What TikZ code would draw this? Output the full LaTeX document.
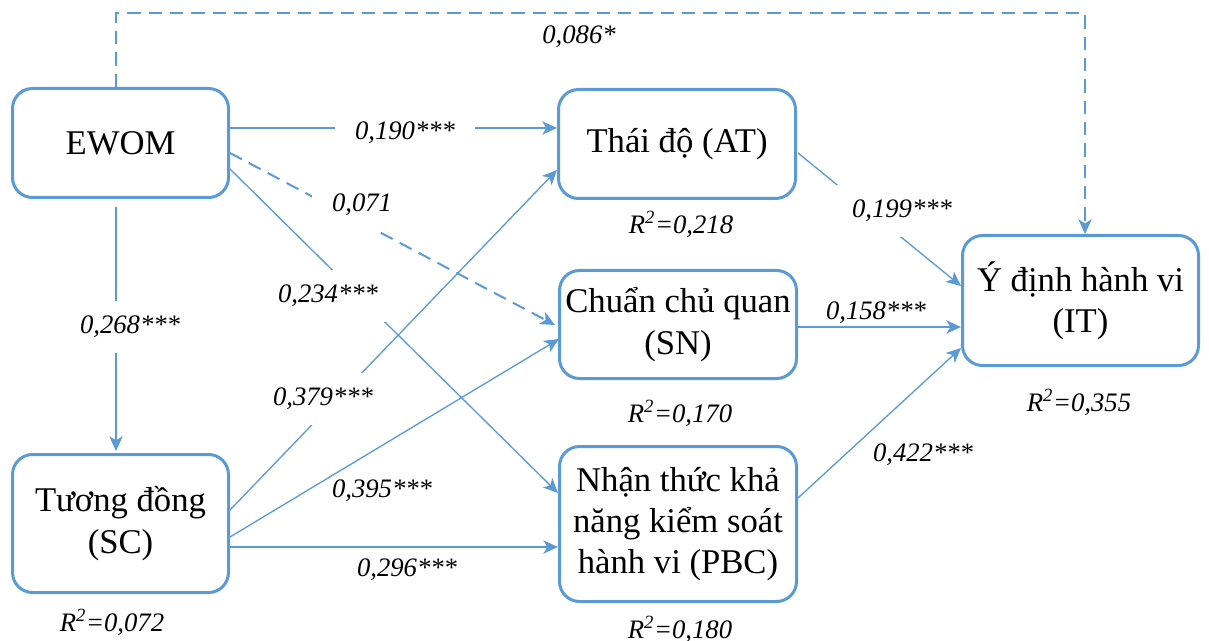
\documentclass[tikz,border=0pt]{standalone}
\usepackage{fontspec}
\setmainfont{Liberation Serif}
\usetikzlibrary{arrows.meta,calc}
\definecolor{lblue}{HTML}{5B9BD5}
\begin{document}
\begin{tikzpicture}[x=0.75pt,y=-0.75pt,
  box/.style={draw=lblue, line width=2.25pt, rounded corners=15pt, fill=white,
    align=center, inner sep=0pt, font=\fontsize{26}{31}\selectfont},
  conn/.style={draw=lblue, line width=1pt,
    -{Stealth[length=11pt,width=10pt,inset=3pt]}},
  dconn/.style={conn, line width=1.5pt, dash pattern=on 10pt off 6pt},
  lbl/.style={font=\fontsize{20}{24}\selectfont\itshape, inner sep=1pt},
  gaplbl/.style={lbl, fill=white, inner xsep=15pt, inner ysep=11pt}]
\useasboundingbox (0,0) rectangle (1209,641);

% nodes
\node[box, minimum width=162pt, minimum height=81.75pt] (ewom) at (120.5,143) {EWOM};
\node[box, minimum width=177.75pt, minimum height=81.75pt] (at) at (677,144) {Thái độ (AT)};
\node[box, minimum width=177.75pt, minimum height=81pt] (sn) at (678,324.5) {Chuẩn chủ quan\\(SN)};
\node[box, minimum width=177.75pt, minimum height=116.25pt] (pbc) at (678,524) {Nhận thức khả\\năng kiểm soát\\hành vi (PBC)};
\node[box, minimum width=177pt, minimum height=97.5pt] (it) at (1080.5,300.5) {Ý định hành vi\\(IT)};
\node[box, minimum width=162pt, minimum height=103.5pt] (sc) at (120.5,523.5) {Tương đồng\\(SC)};

% connectors
\coordinate (tl) at (116,13);
\coordinate (tr) at (1085,13);
\draw[dconn] ($(ewom.north)+(-4.5,0)$) -- (tl) -- (tr) -- ($(it.north)+(4.5,0)$);
\draw[conn] ($(ewom.east)+(0,-15)$) -- ($(at.west)+(0,-16)$);
\draw[dconn] ($(ewom.east)+(0,10)$) -- ($(sn.west)+(-3,0.5)$);
\draw[conn] ($(ewom.east)+(0,26)$) -- ($(pbc.west)+(0,-31)$);
\draw[conn] ($(ewom.south)+(-4.5,8)$) -- ($(sc.north)+(-4.5,-2)$);
\draw[conn] ($(sc.east)+(0,-13.5)$) -- ($(at.west)+(0,26)$);
\draw[conn] ($(sc.east)+(0,13.5)$) -- ($(sn.west)+(1,14.5)$);
\draw[conn] ($(sc.east)+(0,23.5)$) -- ($(pbc.west)+(0,23)$);
\draw[conn] ($(at.east)+(1,9)$) -- ($(it.west)+(0,-14.5)$);
\draw[conn] ($(sn.east)+(0,2.5)$) -- ($(it.west)+(0,26.5)$);
\draw[conn] ($(pbc.east)+(0,-26)$) -- ($(it.west)+(0,47.5)$);

% path labels
\node[lbl] (l086) at (579,37) {0,086*};
\node[gaplbl] (l190) at (405,133) {0,190***};
\node[gaplbl] (l071) at (362,205) {0,071};
\node[gaplbl] (l234) at (328,296) {0,234***};
\node[gaplbl] (l268) at (130,327) {0,268***};
\node[gaplbl] (l379) at (323,399) {0,379***};
\node[lbl] (l395) at (382,491) {0,395***};
\node[lbl] (l296) at (407,570) {0,296***};
\node[gaplbl] (l199) at (902,211) {0,199***};
\node[lbl] (l158) at (876,313) {0,158***};
\node[lbl] (l422) at (923,455) {0,422***};

% R squared
\node[lbl] (r218) at (681,224) {R\textsuperscript{2}=0,218};
\node[lbl] (r170) at (680,413) {R\textsuperscript{2}=0,170};
\node[lbl] (r180) at (680,629) {R\textsuperscript{2}=0,180};
\node[lbl] (r355) at (1079,402) {R\textsuperscript{2}=0,355};
\node[lbl] (r072) at (112,622) {R\textsuperscript{2}=0,072};
\end{tikzpicture}
\end{document}
